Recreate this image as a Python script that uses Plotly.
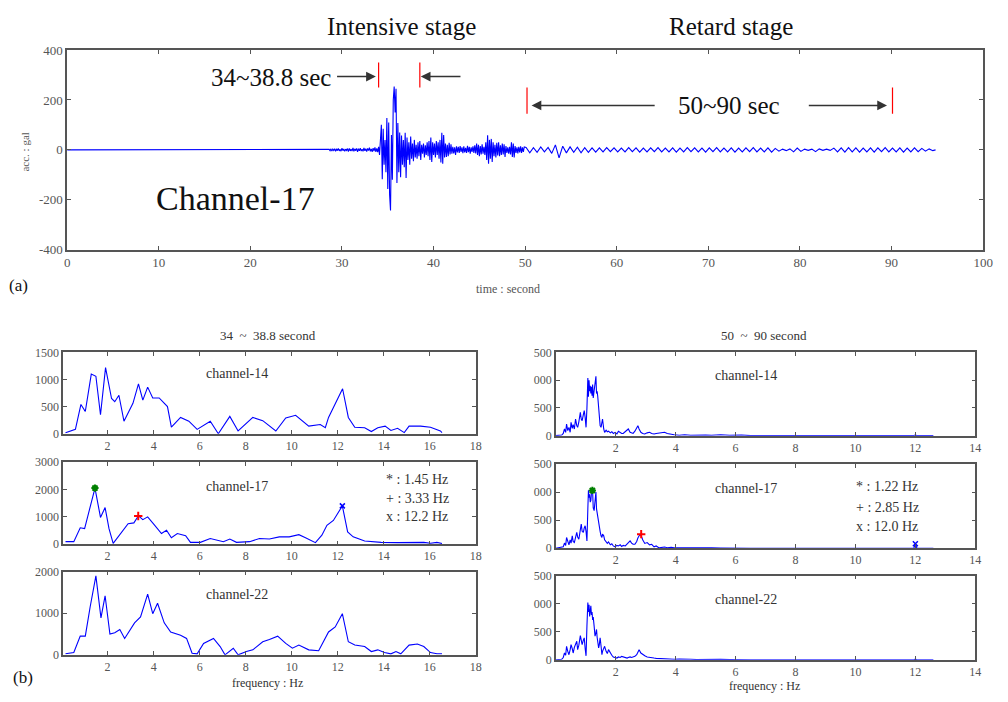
import numpy as np
import plotly.graph_objects as go

W, H = 1008, 702
def px(x): return x / W
def py(y): return 1 - y / H

SERIF = "Liberation Serif, Times New Roman, DejaVu Serif, serif"
BLUE = "#0000ff"

# ---------------- (a) acceleration record, channel-17 ----------------
T_QUIET = [0.0, 28.5]
A_QUIET = [0, 0]

T0_B, DT_B = 28.6, 0.1
A_B = [2, -3, 4, -5, 3, -2, 5, -6, 4, -3, 6, -4, 2, -5, 7, -3, 4, -6, 3, -2,
       5, -7, 6, -4, 3, -5, 8, -6, 4, -3, 6, -8, 5, -4, 7, -5, 3, -6, 8, -4,
       5, -7, 6, -3, 9, -6, 4, -8, 7, -5, 10, -8, 6, -9, 12]

T0_C, DT_C = 34.1, 0.1
A_C = [-20, 60, 101, -118, 85, -60, 40, -90, 128, -157,
       110, -180, -243, 60, -120, 200, 254, 150, 245, -133,
       108, -90, 70, -110, 58, -60, 40, -70, 69, -113,
       50, -40, 30, -60, 54, -35, 25, -45, 40, -30,
       20, -35, 30, -25, 35, -40, 20, -15, 25, -30,
       18, -20, 30, -25, 35, -40, 50, -48, 30, -20]

T0_D, DT_D = 40.1, 0.1
A_D = [25, -30, 35, -20, 30, -35, 40, -50, 69, -55, 60, -30, 25, -28, 20, -25, 28, -18, 22, -15,
       12, -14, 10, -20, 14, -10, 12, -12, 15, -8, 10, -13, 14, -10, 8, -12, 16, -9, 12, -15,
       10, -8, 14, -12, 18, -14, 25, -20, 20, -25, 15, -18, 22, -15, 12, -20, 30, -40, 59, -55,
       40, -35, 44, -48, 30, -25, 20, -30, 28, -22, 30, -25, 18, -20, 25, -18, 22, -28, 15, -12,
       10, -15, 12, -18, 30, -28, 25, -30, 15, -12, 10, -14, 12, -10, 14, -12, 10, -8, 12]

T0_E, DT_E = 50.1, 0.4
A_E = [10, -12, 9, -10, 12, -8, 10, -14, 20, -32, 15, -12, 12, -10, 11, -12, 9, -10, 8, -9,
       8, -8, 9, -7, 8, -8, 7, -8, 9, -7, 8, -9, 7, -8, 8, -7, 9, -8, 7, -8,
       8, -9, 7, -8, 9, -7, 8, -8, 7, -9, 8, -7, 9, -8, 7, -8, 8, -9, 7, -8,
       8, -7, 9, -8, 7, -8, 8, -9, 6, -5, 3, -3, 4, -8, 7, -6, 3, -2, 3, -7,
       4, -2, 3, -2, 7, -8, 8, -9, 9, -8, 8, -9, 7, -8, 8, -9, 8, -7, 9, -8,
       7, -8, 8, -9, 7, -8, 8, -7, 6, -5, 4, -3]
T_END = [94.8]
A_END = [0]

# ---------------- (b) Fourier spectra, 34 ~ 38.8 s ----------------
F14L = [0.17, 0.6, 0.84, 1.03, 1.29, 1.49, 1.69, 1.91, 2.17, 2.31, 2.49, 2.71, 3.1, 3.34, 3.53,
        3.74, 3.96, 4.24, 4.6, 4.77, 5.17, 5.53, 5.89, 6.46, 6.81, 7.31, 7.67, 8.31, 8.74, 9.31,
        9.74, 10.17, 10.74, 11.24, 11.46, 11.6, 12.21, 12.46, 12.74, 13.17, 13.46, 13.74, 14.06,
        14.31, 14.6, 14.89, 15.1, 15.6, 16.03, 16.46, 16.53]
A14L = [18, 80, 540, 410, 1100, 1060, 350, 1220, 650, 590, 710, 230, 560, 920, 620,
        860, 660, 660, 500, 120, 300, 230, 80, 230, 0, 320, 50, 300, 240, 50,
        290, 340, 140, 170, 110, 300, 830, 300, 120, 110, 40, 110, 140,
        60, 100, 20, 140, 140, 120, 50, 20]

F17L = [0.17, 0.53, 0.81, 1.0, 1.45, 1.69, 1.89, 2.06, 2.24, 2.6, 2.89, 3.14, 3.34, 3.53, 3.74,
        4.03, 4.34, 4.56, 4.77, 5.03, 5.39, 5.6, 6.03, 6.46, 7.03, 7.31, 7.6, 8.17, 8.6, 9.03,
        9.46, 9.89, 10.31, 10.6, 11.03, 11.31, 11.53, 11.81, 12.2, 12.43, 12.67, 13.17, 13.89,
        14.6, 15.74, 16.03, 16.31, 16.53]
A17L = [95, 95, 600, 570, 2050, 980, 1340, 570, 35, 450, 750, 780, 1040, 900, 1000,
        710, 390, 510, 240, 390, 310, 70, 70, 210, 95, 190, 70, 95, 210, 190,
        270, 270, 350, 240, 60, 330, 690, 870, 1400, 450, 270, 120, 70,
        60, 70, 35, 70, 25]

F22L = [0.17, 0.53, 0.81, 1.03, 1.24, 1.49, 1.71, 1.89, 2.1, 2.31, 2.53, 2.74, 3.17, 3.43, 3.74,
        3.96, 4.17, 4.46, 4.74, 5.17, 5.43, 5.67, 5.89, 6.17, 6.6, 6.89, 7.1, 7.46, 7.67, 8.03,
        8.31, 8.74, 9.03, 9.39, 9.74, 10.03, 10.31, 10.74, 11.17, 11.6, 11.89, 12.2, 12.46, 12.74,
        13.17, 13.46, 13.74, 14.03, 14.31, 14.53, 14.74, 15.1, 15.46, 15.74, 16.03, 16.31, 16.53]
A22L = [25, 55, 450, 450, 1150, 1900, 890, 1420, 500, 530, 610, 395, 770, 910, 1460,
        990, 1240, 770, 550, 470, 395, 40, 25, 275, 395, 200, 0, 160, 0, 80,
        120, 315, 370, 450, 275, 160, 235, 120, 100, 550, 670, 990, 315, 235,
        200, 80, 120, 55, 25, 80, 25, 235, 260, 200, 55, 25, 25]

# ---------------- (b) Fourier spectra, 50 ~ 90 s ----------------
FREQ_R = [0.0, 0.2, 0.25, 0.29, 0.33, 0.36, 0.4, 0.44, 0.48, 0.51,
          0.55, 0.58, 0.62, 0.66, 0.7, 0.73, 0.77, 0.82, 0.85, 0.88,
          0.92, 0.95, 0.98, 1.01, 1.04, 1.07, 1.09, 1.11, 1.13, 1.15,
          1.17, 1.19, 1.21, 1.23, 1.25, 1.28, 1.31, 1.34, 1.36, 1.38,
          1.4, 1.43, 1.45, 1.48, 1.51, 1.54, 1.56, 1.6, 1.63, 1.68,
          1.72, 1.76, 1.82, 1.87, 1.92, 1.98, 2.04, 2.09, 2.15, 2.2,
          2.25, 2.32, 2.38, 2.42, 2.48, 2.53, 2.58, 2.64, 2.7, 2.74,
          2.78, 2.84, 2.9, 2.97, 3.05, 3.13, 3.2, 3.28, 3.35, 3.45,
          3.55, 3.63, 3.72, 3.85, 3.95, 4.12, 4.3, 4.5, 4.7, 5.0,
          5.2, 5.5, 5.8, 6.0, 6.2, 6.5, 11.95, 12.0, 12.05, 12.6]
A14R = [0, 10, 40, 120, 60, 210, 90, 150, 60, 240,
        130, 200, 120, 300, 180, 150, 250, 420, 300, 270,
        380, 450, 330, 150, 500, 1040, 700, 1000, 800, 900,
        760, 880, 720, 920, 680, 800, 900, 1070, 760, 800,
        710, 450, 270, 180, 150, 230, 300, 120, 60, 100,
        70, 80, 50, 70, 40, 60, 30, 80, 50, 40,
        40, 70, 90, 120, 60, 50, 40, 80, 150, 180,
        120, 60, 40, 30, 50, 60, 40, 30, 40, 50,
        60, 60, 40, 20, 15, 6, 15, 8, 12, 10,
        8, 15, 6, 10, 12, 0, 0, 15, 0, 0]
A17R = [0, 10, 25, 90, 50, 190, 110, 60, 150, 90,
        220, 120, 100, 200, 280, 200, 160, 330, 430, 300,
        280, 360, 400, 300, 130, 700, 1030, 900, 960, 820,
        850, 980, 1030, 1000, 720, 670, 850, 1000, 700, 620,
        550, 420, 340, 300, 220, 190, 250, 220, 150, 120,
        85, 110, 60, 80, 40, 25, 50, 40, 60, 30,
        50, 40, 80, 100, 130, 90, 70, 70, 120, 180,
        220, 240, 150, 85, 100, 60, 70, 25, 40, 5,
        10, 20, 8, 15, 5, 10, 5, 8, 5, 10,
        5, 4, 6, 3, 5, 0, 0, 80, 0, 0]
A22R = [0, 10, 40, 120, 80, 240, 150, 90, 180, 270,
        200, 120, 220, 280, 330, 180, 260, 430, 320, 270,
        350, 390, 200, 70, 600, 1020, 850, 980, 770, 900,
        960, 800, 850, 710, 760, 600, 420, 480, 540, 400,
        300, 210, 260, 390, 250, 90, 150, 200, 240, 150,
        110, 180, 120, 80, 50, 40, 30, 50, 40, 60,
        50, 40, 30, 40, 50, 40, 50, 60, 90, 150,
        180, 120, 90, 70, 50, 40, 30, 30, 25, 20,
        20, 15, 10, 5, 8, 12, 5, 10, 4, 8,
        4, 6, 3, 5, 2, 0, 0, 10, 0, 0]

# peak markers (freq, amplitude)
PEAKS_L = {"star": (1.45, 2050), "plus": (3.33, 1030), "x": (12.2, 1400)}
PEAKS_R = {"star": (1.22, 1030), "plus": (2.85, 250), "x": (12.0, 80)}

# ---------------- assemble time series ----------------
def seg(t0, dt, vals):
    return list(t0 + dt * np.arange(len(vals)))

time = T_QUIET + seg(T0_B, DT_B, A_B) + seg(T0_C, DT_C, A_C) + seg(T0_D, DT_D, A_D) + seg(T0_E, DT_E, A_E) + T_END
acc = A_QUIET + A_B + A_C + A_D + A_E + A_END

fig = go.Figure()
fig.add_trace(go.Scatter(x=time, y=acc, mode="lines", line=dict(color=BLUE, width=1.1),
                         xaxis="x", yaxis="y", showlegend=False))

spectra = [
    ("x2", "y2", F14L, A14L), ("x3", "y3", F17L, A17L), ("x4", "y4", F22L, A22L),
    ("x5", "y5", FREQ_R, A14R), ("x6", "y6", FREQ_R, A17R), ("x7", "y7", FREQ_R, A22R),
]
for xa, ya, f, a in spectra:
    fig.add_trace(go.Scatter(x=f, y=a, mode="lines", line=dict(color=BLUE, width=1.1),
                             xaxis=xa, yaxis=ya, showlegend=False))

for (xa, ya), pk in [(("x3", "y3"), PEAKS_L), (("x6", "y6"), PEAKS_R)]:
    fig.add_trace(go.Scatter(x=[pk["star"][0]], y=[pk["star"][1]], mode="markers",
                             marker=dict(symbol="asterisk-open", size=6, color="#008000",
                                         line=dict(color="#008000", width=2)),
                             xaxis=xa, yaxis=ya, showlegend=False))
    fig.add_trace(go.Scatter(x=[pk["plus"][0]], y=[pk["plus"][1]], mode="markers",
                             marker=dict(symbol="cross-thin-open", size=6, color="#ff0000",
                                         line=dict(color="#ff0000", width=2)),
                             xaxis=xa, yaxis=ya, showlegend=False))
    fig.add_trace(go.Scatter(x=[pk["x"][0]], y=[pk["x"][1]], mode="markers",
                             marker=dict(symbol="x-thin-open", size=5, color=BLUE,
                                         line=dict(color=BLUE, width=1.5)),
                             xaxis=xa, yaxis=ya, showlegend=False))

AX = dict(showline=True, linecolor="#555", linewidth=1.5, mirror="ticks", ticks="inside",
          ticklen=4, tickcolor="#555", showgrid=False, zeroline=False,
          tickfont=dict(family=SERIF, size=13, color="#555"), fixedrange=True)
AXB = dict(AX, tickfont=dict(family=SERIF, size=12, color="#555"))

layout = dict(
    width=W, height=H, margin=dict(l=0, r=0, t=0, b=0),
    paper_bgcolor="white", plot_bgcolor="white", showlegend=False,
    xaxis=dict(AX, domain=[px(65), px(993)], range=[0, 100], tickvals=list(range(0, 101, 10)), anchor="y"),
    yaxis=dict(AX, domain=[py(248), py(44)], range=[-400, 400], tickvals=[-400, -200, 0, 200, 400],
               ticktext=["-400", "-200", "0", "200", "400"], anchor="x"),
)

TICKS_L = [2, 4, 6, 8, 10, 12, 14, 16, 18]
TICKS_R = [2, 4, 6, 8, 10, 12, 14]
left_rows = [(353, 436, 1500, [0, 500, 1000, 1500]),
             (465, 549, 3000, [0, 1000, 2000, 3000]),
             (577, 662, 2000, [0, 1000, 2000])]
right_rows = [(353, 438), (467, 553), (581, 667)]
for i, (top, bot, ymax, yt) in enumerate(left_rows):
    n = i + 2
    layout[f"xaxis{n}"] = dict(AXB, domain=[px(61), px(479)], range=[0.07, 18], tickvals=TICKS_L, anchor=f"y{n}")
    layout[f"yaxis{n}"] = dict(AXB, domain=[py(bot), py(top)], range=[0, ymax], tickvals=yt, anchor=f"x{n}")
for i, (top, bot) in enumerate(right_rows):
    n = i + 5
    layout[f"xaxis{n}"] = dict(AXB, domain=[px(560), px(985)], range=[0.0, 14], tickvals=TICKS_R, anchor=f"y{n}")
    layout[f"yaxis{n}"] = dict(AXB, domain=[py(bot), py(top)], range=[0, 1500], tickvals=[0, 500, 1000, 1500],
                               ticktext=["0", "500", "000", "500"], anchor=f"x{n}")
fig.update_layout(**layout)

ann = []
def text(x, y, s, size, color="#111", xanchor="center", angle=0):
    ann.append(dict(x=px(x), y=py(y), xref="paper", yref="paper", text=s, showarrow=False,
                    xanchor=xanchor, yanchor="middle", textangle=angle,
                    font=dict(family=SERIF, size=size, color=color)))

text(404, 20, "Intensive stage", 25)
text(738, 20, "Retard stage", 25)
text(271, 72, "34~38.8 sec", 25)
text(735, 101, "50~90 sec", 25)
text(236, 196, "Channel-17", 34)
text(22, 148, "acc. : gal", 11, color="#555", angle=-90)
text(512, 288, "time : second", 12, color="#555")
text(16, 285, "(a)", 17)

text(268, 336, "34  ~  38.8 second", 13, color="#333")
text(771, 336, "50  ~  90 second", 13, color="#333")
text(20, 685, "(b)", 17)
text(268, 691, "frequency : Hz", 12, color="#333")
text(771, 694, "frequency : Hz", 12, color="#333")

for x, ys in [(237, (374, 490, 600)), (753, (377, 492, 605))]:
    for y, lab in zip(ys, ["channel-14", "channel-17", "channel-22"]):
        text(x, y, lab, 14, color="#333")

for y, s in zip((483, 502, 521), ["* : 1.45 Hz", "+ : 3.33 Hz", "x : 12.2 Hz"]):
    text(386, y, s, 14, color="#333", xanchor="left")
for y, s in zip((490, 511, 531), ["* : 1.22 Hz", "+ : 2.85 Hz", "x : 12.0 Hz"]):
    text(862, y, s, 14, color="#333", xanchor="left")

# arrows in data coordinates
for (hx, hy, tx, ty) in [(33.7, 294, 29.3, 294), (38.6, 294, 43.1, 294),
                         (50.7, 178, 64.3, 178), (89.5, 178, 80.8, 178)]:
    ann.append(dict(x=hx, y=hy, ax=tx, ay=ty, xref="x", yref="y", axref="x", ayref="y",
                    text="", showarrow=True, arrowhead=2, arrowsize=1.3, arrowwidth=1.5,
                    arrowcolor="#333", standoff=0, startstandoff=0))
fig.update_layout(annotations=ann)

shapes = []
for (x0, y0, y1) in [(34.0, 250, 350), (38.5, 250, 350), (50.2, 145, 250), (90.1, 145, 250)]:
    shapes.append(dict(type="line", xref="x", yref="y", x0=x0, x1=x0, y0=y0, y1=y1,
                       line=dict(color="#ff0000", width=1.2)))
fig.update_layout(shapes=shapes)

fig.write_html("out.html")
